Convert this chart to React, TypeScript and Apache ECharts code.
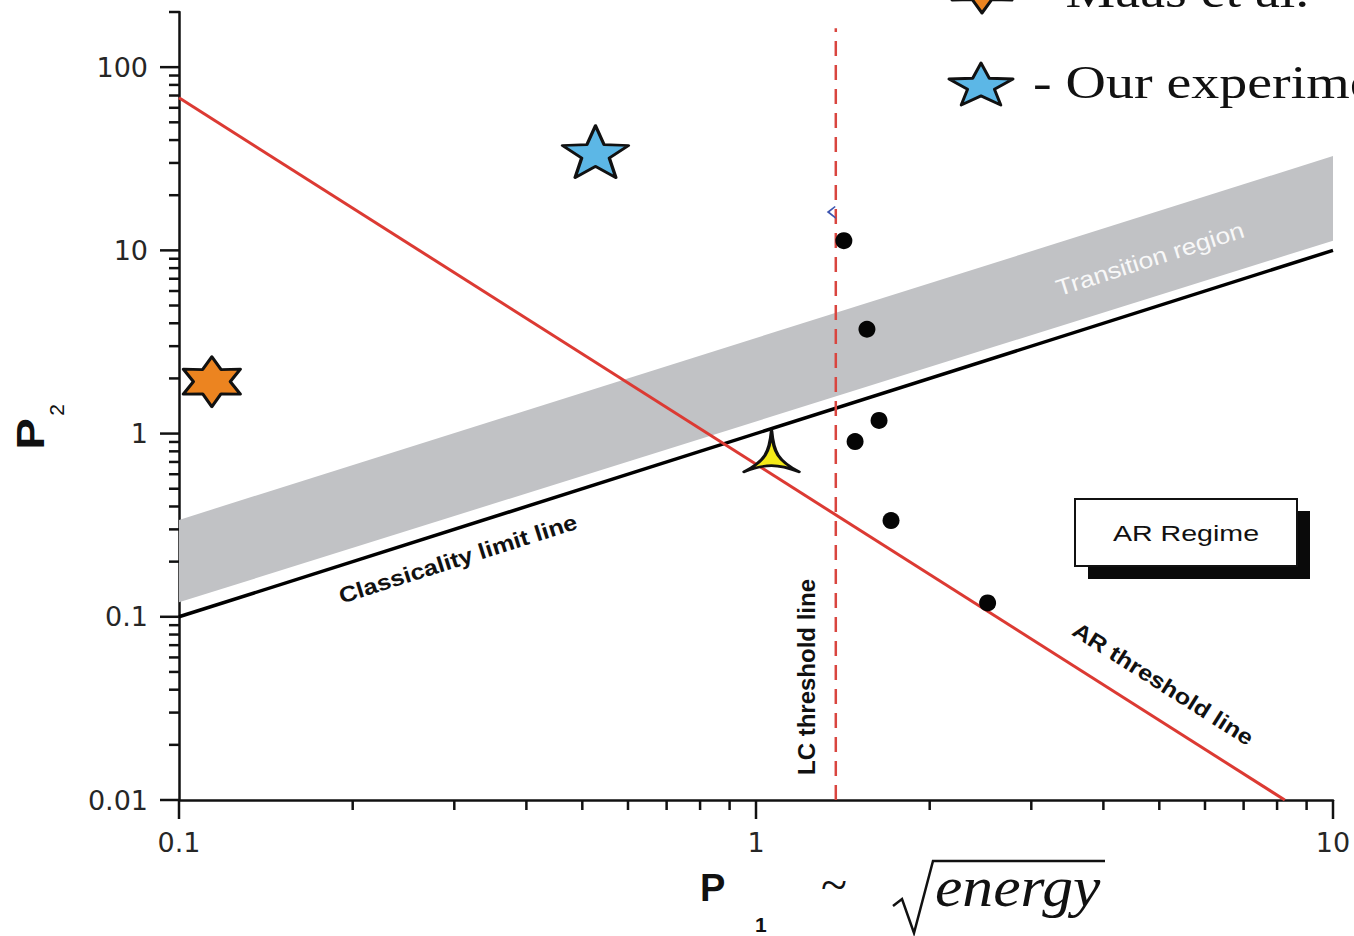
import React, { useEffect, useRef } from 'react';
import * as echarts from 'echarts';

// Axis ranges (log scales)
const xMin = 0.1;
const xMax = 10;
const yMin = 0.01;
const yMax = 200;

// Tick values and labels
const xMajorTicks = [0.1, 1, 10];
const xTickLabels = ['0.1', '1', '10'];
const xMinorTicks = [0.2, 0.3, 0.4, 0.5, 0.6, 0.7, 0.8, 0.9, 2, 3, 4, 5, 6, 7, 8, 9];
const yMajorTicks = [0.01, 0.1, 1, 10, 100];
const yTickLabels = ['0.01', '0.1', '1', '10', '100'];
const yMinorTicks = [
  0.02, 0.03, 0.04, 0.05, 0.06, 0.07, 0.08, 0.09,
  0.2, 0.3, 0.4, 0.5, 0.6, 0.7, 0.8, 0.9,
  2, 3, 4, 5, 6, 7, 8, 9,
  20, 30, 40, 50, 60, 70, 80, 90,
  200,
];

// Transition region band: lower and upper edges
const bandX = [0.1, 10];
const bandLow = [0.12, 11.3];
const bandHigh = [0.338, 32.7];

// Classicality limit line
const classicalX = [0.1, 10];
const classicalY = [0.1, 10];

// AR threshold line
const arX = [0.1, 8.25];
const arY = [68, 0.01];

// LC threshold line
const lcX = [1.375, 1.375];
const lcY = [0.01, 163];

// Data points
const dotX = [1.42, 1.557, 1.634, 1.485, 1.714, 2.52];
const dotY = [11.3, 3.71, 1.18, 0.905, 0.335, 0.119];
const ourX = [0.527];
const ourY = [34.6];
const maasX = [0.114];
const maasY = [1.92];
const triX = [1.064];
const triY = [0.8];
const markX = [1.35];
const markY = [16.1];

function starPath(n: number, inner: number): string {
  const pts: string[] = [];
  for (let k = 0; k < n * 2; k++) {
    const r = k % 2 === 0 ? 1 : inner;
    const a = -Math.PI / 2 + (k * Math.PI) / n;
    pts.push(`${(Math.cos(a) * r * 100).toFixed(2)} ${(Math.sin(a) * r * 100).toFixed(2)}`);
  }
  return 'M' + pts.join(' L') + ' Z';
}

function starPolygon(n: number, inner: number, cx: number, cy: number, w: number, h: number) {
  const raw: number[][] = [];
  for (let k = 0; k < n * 2; k++) {
    const r = k % 2 === 0 ? 1 : inner;
    const a = -Math.PI / 2 + (k * Math.PI) / n;
    raw.push([Math.cos(a) * r, Math.sin(a) * r]);
  }
  const xs = raw.map((p) => p[0]);
  const ys = raw.map((p) => p[1]);
  const x0 = Math.min(...xs), x1 = Math.max(...xs), y0 = Math.min(...ys), y1 = Math.max(...ys);
  return raw.map((p) => [
    cx + ((p[0] - x0) / (x1 - x0) - 0.5) * w,
    cy + ((p[1] - y0) / (y1 - y0) - 0.5) * h,
  ]);
}

const star5 = 'path://' + starPath(5, 0.42);
const star6 = 'path://' + starPath(6, 0.56);
const triStar = 'path://M28.5 0 C30.5 22 35 30.6 57 42 C35 33.5 22 33.5 0 42 C22 30.6 26.5 22 28.5 0 Z';
const chevron = 'path://M9 0 L1 6 L10 13 L10 11 L4 6 L10 1 Z';

const SANS = "'Liberation Sans', Arial, sans-serif";
const SERIF = "'Liberation Serif', 'Times New Roman', serif";

function labelFor(values: number[], labels: string[]) {
  return (v: number) => {
    for (let i = 0; i < values.length; i++) {
      if (Math.abs(Math.log10(v) - Math.log10(values[i])) < 1e-6) return labels[i];
    }
    return '';
  };
}

// text placed by its alphabetic baseline
function baselineText(x: number, baseline: number, text: string, size: number, font: string, extra: any = {}) {
  return {
    type: 'text',
    z: 50,
    x,
    y: baseline - 0.37 * size,
    ...extra,
    style: { text, fill: '#111', font: `${font.replace('SIZE', String(size))}`, align: 'left', verticalAlign: 'middle' },
  };
}

export default function App() {
  const ref = useRef<HTMLDivElement>(null);

  useEffect(() => {
    if (!ref.current) return;
    const chart = echarts.init(ref.current, undefined, { renderer: 'svg' });

    const tickData: number[][] = [
      ...xMinorTicks.map((v) => [v, yMin, 0]),
      ...xMajorTicks.map((v) => [v, yMin, 1]),
      ...yMinorTicks.map((v) => [xMin, v, 2]),
      ...yMajorTicks.map((v) => [xMin, v, 3]),
    ];

    const option: any = {
      animation: false,
      backgroundColor: '#ffffff',
      grid: { left: 179, right: 21, top: 12, bottom: 136, containLabel: false },
      xAxis: {
        type: 'log',
        logBase: 10,
        min: xMin,
        max: xMax,
        axisLine: { lineStyle: { color: '#111', width: 2.5 } },
        axisTick: { show: false },
        splitLine: { show: false },
        axisLabel: {
          fontFamily: "'DejaVu Sans', sans-serif",
          fontSize: 27,
          color: '#262626',
          margin: 29,
          formatter: labelFor(xMajorTicks, xTickLabels),
        },
      },
      yAxis: {
        type: 'log',
        logBase: 10,
        min: yMin,
        max: yMax,
        axisLine: { lineStyle: { color: '#111', width: 2.5 } },
        axisTick: { show: false },
        splitLine: { show: false },
        axisLabel: {
          fontFamily: "'DejaVu Sans', sans-serif",
          fontSize: 27,
          color: '#262626',
          margin: 31,
          formatter: labelFor(yMajorTicks, yTickLabels),
        },
      },
      series: [
        {
          type: 'custom',
          name: 'Transition region',
          silent: true,
          z: 1,
          data: [[bandX[0], bandLow[0]]],
          renderItem: (_p: any, api: any) => {
            const pts: number[][] = [];
            for (let i = 0; i < bandX.length; i++) pts.push(api.coord([bandX[i], bandLow[i]]));
            for (let i = bandX.length - 1; i >= 0; i--) pts.push(api.coord([bandX[i], bandHigh[i]]));
            return { type: 'polygon', shape: { points: pts }, style: { fill: '#c1c2c5' } };
          },
        },
        {
          type: 'custom',
          name: 'ticks',
          silent: true,
          z: 5,
          clip: false,
          data: tickData,
          renderItem: (_p: any, api: any) => {
            const kind = api.value(2);
            const p = api.coord([api.value(0), api.value(1)]);
            const major = kind === 1 || kind === 3;
            const len = major ? 19 : 10;
            const shape =
              kind < 2
                ? { x1: p[0], y1: p[1], x2: p[0], y2: p[1] + len }
                : { x1: p[0], y1: p[1], x2: p[0] - len, y2: p[1] };
            return { type: 'line', shape, style: { stroke: '#111', lineWidth: 2.5 } };
          },
        },
        {
          type: 'line',
          name: 'Classicality limit line',
          silent: true,
          z: 3,
          symbol: 'none',
          lineStyle: { color: '#000', width: 3.5 },
          data: classicalX.map((x, i) => [x, classicalY[i]]),
        },
        {
          type: 'line',
          name: 'AR threshold line',
          silent: true,
          z: 3,
          symbol: 'none',
          lineStyle: { color: '#dc3a33', width: 3 },
          data: arX.map((x, i) => [x, arY[i]]),
        },
        {
          type: 'line',
          name: 'LC threshold line',
          silent: true,
          z: 3,
          symbol: 'none',
          lineStyle: { color: '#d9453f', width: 2.5, type: [15, 9] },
          data: lcX.map((x, i) => [x, lcY[i]]),
        },
        {
          type: 'scatter',
          name: 'marker',
          silent: true,
          z: 4,
          symbol: chevron,
          symbolSize: [9, 13],
          itemStyle: { color: '#3d55b0', opacity: 1 },
          data: markX.map((x, i) => [x, markY[i]]),
        },
        {
          type: 'scatter',
          name: 'points',
          silent: true,
          z: 4,
          symbol: 'circle',
          symbolSize: 17,
          itemStyle: { color: '#050505', opacity: 1 },
          data: dotX.map((x, i) => [x, dotY[i]]),
        },
        {
          type: 'scatter',
          name: 'Our experiment',
          silent: true,
          z: 6,
          symbol: star5,
          symbolSize: [66, 52],
          itemStyle: { color: '#5cb7e6', borderColor: '#111', borderWidth: 3, borderJoin: 'round', opacity: 1 },
          data: ourX.map((x, i) => [x, ourY[i]]),
        },
        {
          type: 'scatter',
          name: 'Maas et al.',
          silent: true,
          z: 6,
          symbol: star6,
          symbolSize: [57, 50],
          itemStyle: { color: '#ec8420', borderColor: '#111', borderWidth: 3, borderJoin: 'round', opacity: 1 },
          data: maasX.map((x, i) => [x, maasY[i]]),
        },
        {
          type: 'scatter',
          name: 'tri',
          silent: true,
          z: 6,
          symbol: triStar,
          symbolSize: [55, 41],
          itemStyle: { color: '#f4ea18', borderColor: '#111', borderWidth: 3, borderJoin: 'round', opacity: 1 },
          data: triX.map((x, i) => [x, triY[i]]),
        },
      ],
      graphic: [
        // annotations along the lines
        {
          type: 'text',
          z: 50,
          x: 1150,
          y: 259,
          rotation: (17.6 * Math.PI) / 180,
          scaleX: 1.15,
          style: {
            text: 'Transition region',
            fill: '#f8f8f8',
            font: `23px ${SANS}`,
            align: 'center',
            verticalAlign: 'middle',
          },
        },
        {
          type: 'text',
          z: 50,
          x: 458,
          y: 559,
          rotation: (17.6 * Math.PI) / 180,
          scaleX: 1.15,
          style: {
            text: 'Classicality limit line',
            fill: '#111',
            font: `bold 22px ${SANS}`,
            align: 'center',
            verticalAlign: 'middle',
          },
        },
        {
          type: 'text',
          z: 50,
          x: 1163,
          y: 684,
          rotation: (-32.4 * Math.PI) / 180,
          scaleX: 1.15,
          style: {
            text: 'AR threshold line',
            fill: '#111',
            font: `bold 22px ${SANS}`,
            align: 'center',
            verticalAlign: 'middle',
          },
        },
        {
          type: 'text',
          z: 50,
          x: 806,
          y: 677,
          rotation: Math.PI / 2,
          style: {
            text: 'LC threshold line',
            fill: '#111',
            font: `bold 24px ${SANS}`,
            align: 'center',
            verticalAlign: 'middle',
          },
        },
        // AR Regime box with drop shadow
        {
          type: 'rect',
          z: 50,
          shape: { x: 1088, y: 511, width: 222, height: 68 },
          style: { fill: '#0a0a0a' },
        },
        {
          type: 'rect',
          z: 51,
          shape: { x: 1075, y: 499, width: 222, height: 67 },
          style: { fill: '#ffffff', stroke: '#111', lineWidth: 2 },
        },
        {
          type: 'text',
          z: 52,
          x: 1186,
          y: 533,
          scaleX: 1.3,
          style: {
            text: 'AR Regime',
            fill: '#111',
            font: `22px ${SANS}`,
            align: 'center',
            verticalAlign: 'middle',
          },
        },
        // y-axis title
        {
          type: 'text',
          z: 50,
          x: 31,
          y: 434,
          rotation: Math.PI / 2,
          scaleX: 1.25,
          style: { text: 'P', fill: '#111', font: `bold 38px ${SANS}`, align: 'center', verticalAlign: 'middle' },
        },
        {
          type: 'text',
          z: 50,
          x: 56,
          y: 410,
          rotation: Math.PI / 2,
          style: { text: '2', fill: '#111', font: `21px ${SANS}`, align: 'center', verticalAlign: 'middle' },
        },
        // x-axis title: P1 ~ sqrt(energy)
        baselineText(700, 902, 'P', 38, `bold SIZEpx ${SANS}`),
        baselineText(755, 932, '1', 21, `bold SIZEpx ${SANS}`),
        baselineText(821, 902, '~', 48, `SIZEpx ${SERIF}`),
        {
          type: 'polyline',
          z: 50,
          shape: { points: [[893, 906], [902, 899], [914, 933], [933, 861], [1105, 861]] },
          style: { stroke: '#111', lineWidth: 2.5, fill: null },
        },
        baselineText(935, 908, 'energy', 56, `italic SIZEpx ${SERIF}`, { scaleX: 1.1 }),
        // legend
        {
          type: 'polygon',
          z: 50,
          shape: { points: starPolygon(6, 0.56, 982, -13, 60, 52) },
          style: { fill: '#ec8420', stroke: '#111', lineWidth: 3, lineJoin: 'round' },
        },
        baselineText(1033, 8, '- Maas et al.  - [1]', 47, `SIZEpx ${SERIF}`, { scaleX: 1.19 }),
        {
          type: 'polygon',
          z: 50,
          shape: { points: starPolygon(5, 0.42, 981, 84, 64, 42) },
          style: { fill: '#5cb7e6', stroke: '#111', lineWidth: 3, lineJoin: 'round' },
        },
        baselineText(1033, 99, '- Our experiment', 47, `SIZEpx ${SERIF}`, { scaleX: 1.19 }),
      ],
    };

    chart.setOption(option);
    return () => chart.dispose();
  }, []);

  return (
    <div
      ref={ref}
      style={{ position: 'fixed', left: 0, top: 0, width: 1354, height: 936, background: '#fff' }}
    />
  );
}
